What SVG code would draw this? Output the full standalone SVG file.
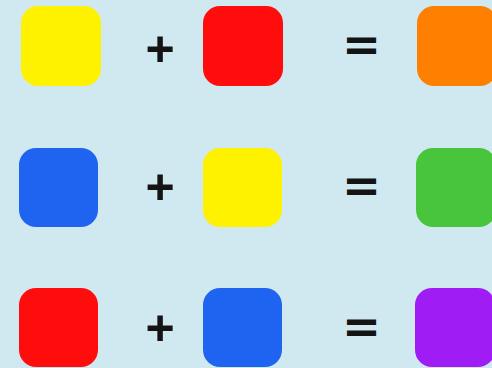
<svg xmlns="http://www.w3.org/2000/svg" width="492" height="368" viewBox="0 0 492 368">
<style>
.op{font-family:"Liberation Sans",Arial,sans-serif;font-weight:bold;fill:#141414;text-anchor:middle}
.plus{font-size:50px}
.eq{font-size:56px;stroke:#141414;stroke-width:1.6px}
</style>
<rect width="492" height="368" fill="#d0e8ef"/>
<g id="row1">
<rect id="yellow1" x="21" y="6" width="80" height="80" rx="17" fill="#fff200"/>
<text class="op plus" x="160" y="66">+</text>
<rect id="red1" x="203" y="6" width="80" height="80" rx="17" fill="#ff0d0d"/>
<text class="op eq" transform="translate(361.5,45.5) scale(0.98,0.72)" x="0" y="20.5">=</text>
<rect id="orange1" x="417" y="6" width="80" height="80" rx="17" fill="#ff7f00"/>
</g>
<g id="row2">
<rect id="blue2" x="19" y="148" width="79" height="79" rx="17" fill="#1f64f0"/>
<text class="op plus" x="160" y="204">+</text>
<rect id="yellow2" x="203" y="148" width="79" height="79" rx="17" fill="#fff200"/>
<text class="op eq" transform="translate(361.5,186) scale(0.98,0.72)" x="0" y="20.5">=</text>
<rect id="green2" x="416" y="148" width="80" height="79" rx="17" fill="#49c43d"/>
</g>
<g id="row3">
<rect id="red3" x="19" y="288" width="79" height="79" rx="17" fill="#ff0d0d"/>
<text class="op plus" x="160" y="345">+</text>
<rect id="blue3" x="203" y="288" width="79" height="79" rx="17" fill="#1f64f0"/>
<text class="op eq" transform="translate(361.5,327) scale(0.98,0.72)" x="0" y="20.5">=</text>
<rect id="purple3" x="415" y="288" width="80" height="79" rx="17" fill="#a01cf5"/>
</g>
</svg>
